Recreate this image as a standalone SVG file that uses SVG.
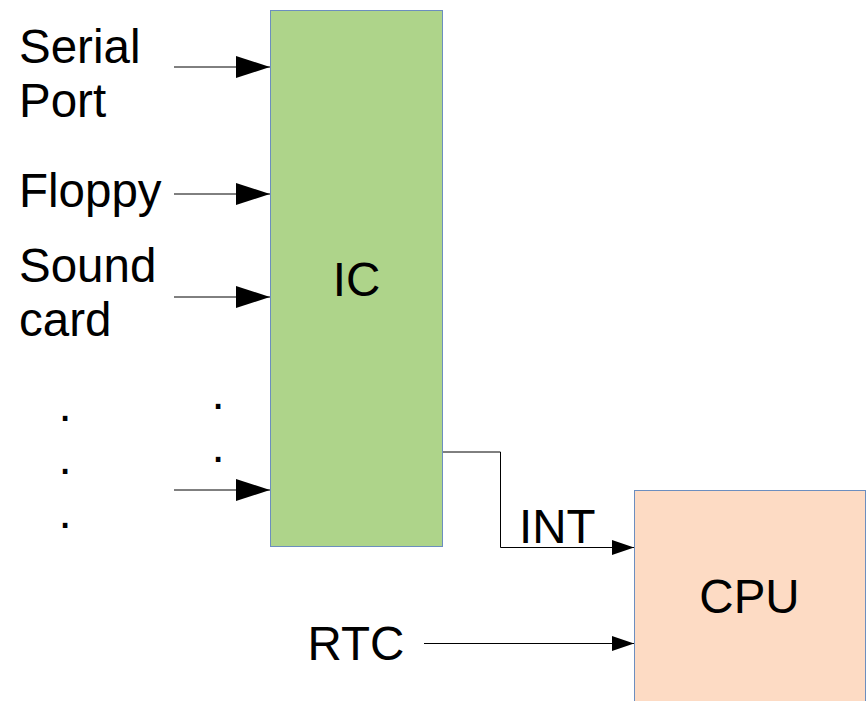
<svg xmlns="http://www.w3.org/2000/svg" width="866" height="701" viewBox="0 0 866 701">
  <style>
    text { font-family: "Liberation Sans", Arial, sans-serif; font-size: 47.5px; fill: #000; }
    .block-ic { fill: #aed48a; stroke: #6c8ebf; stroke-width: 1; }
    .block-cpu { fill: #fddbc4; stroke: #6c8ebf; stroke-width: 1; }
    .wire { fill: none; stroke: #000; stroke-width: 1; }
  </style>
  <defs>
    <marker id="head-big" markerUnits="userSpaceOnUse" markerWidth="34" markerHeight="22" refX="34" refY="11" orient="auto">
      <path d="M0,0 L34,11 L0,22 Z" fill="#000"/>
    </marker>
    <marker id="head-small" markerUnits="userSpaceOnUse" markerWidth="22" markerHeight="15" refX="22" refY="7.5" orient="auto">
      <path d="M0,0 L22,7.5 L0,15 Z" fill="#000"/>
    </marker>
  </defs>

  <!-- interrupt controller -->
  <g id="ic">
    <rect class="block-ic" x="270.5" y="10.5" width="172" height="536"/>
    <text x="356.5" y="296" text-anchor="middle">IC</text>
  </g>

  <!-- processor -->
  <g id="cpu">
    <rect class="block-cpu" x="634.5" y="490.5" width="231" height="230"/>
    <text x="749.5" y="613" text-anchor="middle">CPU</text>
  </g>

  <!-- interrupt sources -->
  <g id="serial-port">
    <text x="19" y="63">Serial</text>
    <text x="19" y="117">Port</text>
  </g>
  <g id="floppy">
    <text x="19" y="207">Floppy</text>
  </g>
  <g id="sound-card">
    <text x="19" y="282">Sound</text>
    <text x="19" y="336">card</text>
  </g>
  <g id="more-sources">
    <text x="58.4" y="420.5">.</text>
    <text x="58.4" y="473.5">.</text>
    <text x="58.4" y="527.5">.</text>
    <text x="211.4" y="408.5">.</text>
    <text x="211.4" y="461.5">.</text>
  </g>
  <g id="rtc">
    <text x="307.5" y="660">RTC</text>
  </g>

  <!-- connectors -->
  <g id="connectors">
    <line class="wire" x1="174" y1="67" x2="270" y2="67" marker-end="url(#head-big)"/>
    <line class="wire" x1="174" y1="194" x2="270" y2="194" marker-end="url(#head-big)"/>
    <line class="wire" x1="174" y1="297" x2="270" y2="297" marker-end="url(#head-big)"/>
    <line class="wire" x1="174" y1="490" x2="270" y2="490" marker-end="url(#head-big)"/>
    <polyline class="wire" points="443,452 500.5,452 500.5,547.5 634,547.5" marker-end="url(#head-small)"/>
    <text x="519" y="543">INT</text>
    <line class="wire" x1="424" y1="643.5" x2="634" y2="643.5" marker-end="url(#head-small)"/>
  </g>
</svg>
